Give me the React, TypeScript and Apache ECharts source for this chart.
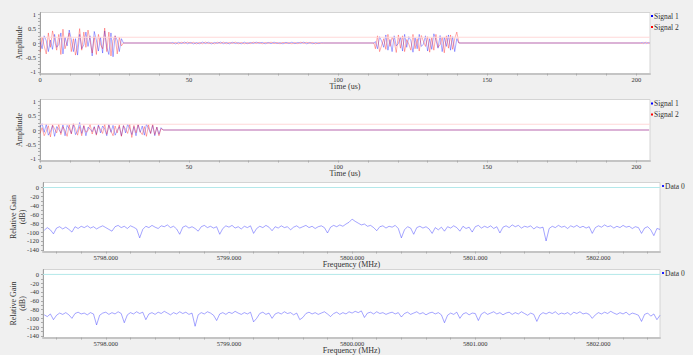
import React, { useEffect, useRef } from "react";
import * as echarts from "echarts";

// ---------- axis ticks / ranges ----------
const TIME_RANGE = [0, 204.6];
const TIME_LABELS = [0, 50, 100, 150, 200];
const TIME_TICKS = [0, 10, 20, 30, 40, 50, 60, 70, 80, 90, 100, 110, 120, 130, 140, 150, 160, 170, 180, 190, 200];
const AMP_RANGE = [-1.06, 1.06];
const AMP_LABELS = [-1, -0.5, 0, 0.5, 1];
const AMP_TICKS = [-1, -0.875, -0.75, -0.625, -0.5, -0.375, -0.25, -0.125, 0, 0.125, 0.25, 0.375, 0.5, 0.625, 0.75, 0.875, 1];
const FREQ_RANGE = [5797.49, 5802.5];
const FREQ_LABELS = [5798, 5799, 5800, 5801, 5802];
const FREQ_TICKS = [5797.6, 5797.8, 5798, 5798.2, 5798.4, 5798.6, 5798.8, 5799, 5799.2, 5799.4, 5799.6, 5799.8, 5800, 5800.2, 5800.4, 5800.6, 5800.8, 5801, 5801.2, 5801.4, 5801.6, 5801.8, 5802, 5802.2, 5802.4];
const GAIN_RANGE = [-143.6, 11.2];
const GAIN_LABELS = [0, -20, -40, -60, -80, -100, -120, -140];
const GAIN_TICKS = [0, -10, -20, -30, -40, -50, -60, -70, -80, -90, -100, -110, -120, -130, -140];

const AMP_THRESHOLD = 0.2;
const GAIN_REFERENCE = 0;

// ---------- panel 1 (time, us) ----------
const P1_BURST_A_START = 0;
const P1_BURST_A_STEP = 0.7;
const P1_SIG1_BURST_A = [0.05, -0.2, 0.25, 0.08, -0.3, 0.1, -0.22, 0.3, -0.15, -0.05, 0.35, -0.38, 0.2, -0.1, 0.45, 0.12, -0.3, 0.15, -0.42, 0.3, -0.2, -0.06, 0.38, -0.12, 0.25, -0.45, 0.4, 0.1, -0.28, 0.2, -0.35, 0.42, -0.15, -0.4, 0.35, -0.48, 0.25, 0.1, -0.3, 0.15, 0];
const P1_SIG2_BURST_A = [-0.32, 0.2, -0.1, -0.38, 0.35, -0.15, 0.42, 0.1, -0.25, 0.3, -0.4, 0.48, -0.2, 0.05, 0.35, -0.3, 0.15, -0.42, -0.1, 0.5, -0.25, 0.38, -0.15, 0.45, 0.08, -0.35, 0.22, -0.4, 0.3, -0.05, -0.2, 0.52, -0.3, 0.38, -0.45, 0.1, 0.25, -0.38, 0.2, -0.1, 0];
const P1_QUIET_A = [28.5, 44];
const P1_WIGGLE_START = 44.5;
const P1_WIGGLE_STEP = 1;
const P1_SIG1_WIGGLE = [0.02, -0.03, 0.025, -0.02, 0.03, -0.025, 0.02, -0.03, 0.015, -0.025, 0.03, -0.02, 0.025, -0.03, 0.02, -0.015, 0.03, -0.025, 0.02, -0.03, 0.025, -0.02, 0.015, -0.03, 0.03, -0.025, 0.02, -0.02, 0.03, -0.015, 0.025, -0.03, 0.02, -0.025, 0.03, -0.02, 0.015, -0.03, 0.025, -0.02, 0.03, -0.025, 0.02, -0.015, 0.03, -0.03, 0.02, -0.025, 0.015, -0.02, 0.01];
const P1_SIG2_WIGGLE = [-0.025, 0.02, -0.03, 0.025, -0.02, 0.03, -0.015, 0.025, -0.03, 0.02, -0.025, 0.03, -0.02, 0.015, -0.03, 0.025, -0.02, 0.03, -0.025, 0.02, -0.015, 0.03, -0.025, 0.02, -0.03, 0.015, -0.025, 0.03, -0.02, 0.025, -0.03, 0.02, -0.015, 0.03, -0.025, 0.02, -0.03, 0.025, -0.02, 0.015, -0.03, 0.02, -0.025, 0.03, -0.02, 0.025, -0.015, 0.02, -0.03, 0.015, -0.01];
const P1_QUIET_B = [95, 112];
const P1_BURST_B_START = 112.5;
const P1_BURST_B_STEP = 0.7;
const P1_SIG1_BURST_B = [0.05, -0.2, 0.22, 0.06, -0.15, 0.28, -0.25, 0.12, -0.3, 0.25, -0.1, -0.02, 0.2, -0.28, 0.3, -0.15, 0.22, 0.08, -0.32, 0.18, -0.2, 0.3, -0.12, -0.04, 0.25, -0.28, 0.15, -0.22, 0.32, 0.1, -0.18, 0.26, -0.3, 0.2, -0.12, 0.28, -0.25, 0.22, -0.3, 0.15, 0];
const P1_SIG2_BURST_B = [-0.2, 0.25, -0.3, -0.08, 0.15, -0.22, 0.3, -0.12, 0.2, 0.05, -0.33, 0.28, -0.18, 0.25, -0.3, 0.12, -0.04, -0.25, 0.3, -0.2, 0.15, -0.28, 0.26, 0.06, -0.12, 0.22, -0.32, 0.18, -0.25, 0.3, -0.15, -0.06, 0.2, -0.34, 0.25, -0.18, 0.28, -0.22, 0.15, 0.38, 0];
const P1_QUIET_C = [141.5, 201.5];
const P1_TAIL_START = 202;
const P1_TAIL_STEP = 0.5;
const P1_SIG1_TAIL = [0.02, -0.02, 0.025, -0.02, 0.015, 0];
const P1_SIG2_TAIL = [-0.02, 0.02, -0.02, 0.025, -0.015, 0];
const P1_END = 204.3;

// ---------- panel 2 (time, us) ----------
const P2_BURST_START = 0;
const P2_BURST_STEP = 0.7;
const P2_SIG1_BURST = [0.1, 0.22, -0.08, 0.2, -0.18, -0.05, 0.15, -0.22, 0.12, 0.02, -0.1, 0.18, -0.2, 0.16, 0.05, -0.12, 0.2, -0.16, -0.04, 0.26, -0.12, 0.14, -0.2, 0.1, 0.03, -0.06, 0.12, -0.15, 0.18, -0.1, 0.14, 0.04, -0.2, 0.2, -0.08, 0.16, -0.18, -0.02, 0.12, -0.2, 0.15, -0.1, 0.2, 0.05, -0.16, 0.12, -0.2, 0.18, -0.08, 0.14, -0.18, 0.2, 0.06, -0.12, 0.16, -0.2, 0.1, -0.15, 0.08, 0];
const P2_SIG2_BURST = [-0.12, 0.08, -0.2, -0.05, 0.15, -0.24, 0.18, 0.04, -0.1, 0.2, -0.16, 0.12, -0.03, -0.22, 0.18, -0.14, 0.22, 0.05, -0.18, 0.12, -0.2, 0.16, -0.08, -0.02, 0.2, -0.14, 0.1, -0.18, 0.14, 0.02, -0.12, 0.2, -0.15, 0.16, -0.04, -0.2, 0.14, -0.1, 0.18, -0.22, 0.15, 0.03, -0.12, 0.2, -0.26, 0.16, -0.1, 0.2, -0.06, -0.16, 0.12, -0.22, 0.18, -0.12, 0.2, -0.16, 0.1, -0.2, 0.05, 0];
const P2_END = 204.3;

// ---------- panels 3 & 4 (frequency, MHz) ----------
const FREQ_START = 5797.5;
const FREQ_STEP = 0.025;
const P3_GAIN = [
  -96, -90, -95, -104, -91, -88, -93, -89, -94, -100,
  -88, -92, -87, -90, -86, -91, -88, -93, -89, -86,
  -90, -94, -98, -88, -85, -90, -87, -92, -86, -89,
  -93, -113, -94, -87, -90, -85, -89, -92, -86, -88,
  -84, -90, -87, -93, -105, -89, -86, -91, -88, -92,
  -98, -88, -85, -90, -87, -91, -88, -105, -92, -86,
  -89, -85, -91, -88, -93, -87, -90, -86, -103, -92,
  -87, -90, -85, -89, -97, -88, -91, -86, -90, -88,
  -95, -89, -86, -91, -88, -85, -90, -87, -92, -88,
  -86, -90, -102, -89, -85, -88, -84, -87, -82, -78,
  -71, -76, -80, -84, -82, -87, -85, -90, -97, -88,
  -86, -91, -87, -89, -85, -92, -113, -95, -88, -91,
  -105, -90, -87, -91, -88, -93, -103, -90, -95, -89,
  -98, -88, -91, -86, -90, -98, -87, -92, -89, -100,
  -88, -85, -91, -87, -90, -86, -92, -88, -102, -89,
  -86, -90, -84, -88, -85, -91, -87, -89, -86, -93,
  -88, -91, -89, -120, -92, -87, -90, -85, -89, -87,
  -92, -86, -89, -85, -90, -87, -91, -88, -103, -90,
  -86, -89, -84, -88, -86, -91, -87, -90, -85, -89,
  -87, -92, -88, -90, -103, -91, -88, -95, -108, -92,
  -94,
];
const P4_GAIN = [
  -92, -96, -90, -103, -93, -88, -91, -87, -92, -100,
  -89, -86, -90, -88, -92, -87, -90, -115, -93, -88,
  -86, -91, -87, -90, -85, -89, -110, -92, -87, -90,
  -85, -89, -86, -103, -90, -87, -91, -86, -89, -84,
  -88, -92, -87, -90, -85, -89, -86, -91, -88, -118,
  -92, -87, -90, -85, -88, -93, -105, -90, -87, -91,
  -86, -89, -84, -88, -91, -87, -90, -86, -108, -100,
  -89, -86, -91, -88, -100, -90, -87, -90, -85, -89,
  -87, -92, -88, -103, -98, -89, -86, -90, -87, -91,
  -88, -85, -90, -96, -89, -86, -91, -87, -90, -85,
  -88, -84, -87, -83, -98, -88, -86, -90, -85, -89,
  -87, -91, -88, -86, -90, -87, -97, -89, -86, -91,
  -88, -85, -90, -87, -92, -88, -86, -90, -87, -92,
  -110, -93, -88, -91, -86, -100, -90, -87, -92, -88,
  -89, -105, -90, -86, -91, -88, -85, -90, -87, -92,
  -88, -86, -91, -87, -90, -85, -89, -93, -88, -91,
  -107, -92, -87, -90, -86, -89, -85, -91, -88, -90,
  -87, -92, -86, -89, -85, -90, -88, -91, -100, -92,
  -87, -90, -86, -89, -84, -88, -91, -87, -90, -86,
  -92, -88, -90, -93, -107, -91, -88, -95, -90, -103,
  -93,
];

// ---------- helpers ----------
const seg = (start: number, step: number, vals: number[]) => vals.map((v, i) => [start + i * step, v]);

function buildPanel1(burstA: number[], wiggle: number[], burstB: number[], tail: number[]): number[][] {
  return [
    ...seg(P1_BURST_A_START, P1_BURST_A_STEP, burstA),
    [P1_QUIET_A[0], 0], [P1_QUIET_A[1], 0],
    ...seg(P1_WIGGLE_START, P1_WIGGLE_STEP, wiggle),
    [P1_QUIET_B[0], 0], [P1_QUIET_B[1], 0],
    ...seg(P1_BURST_B_START, P1_BURST_B_STEP, burstB),
    [P1_QUIET_C[0], 0], [P1_QUIET_C[1], 0],
    ...seg(P1_TAIL_START, P1_TAIL_STEP, tail),
    [P1_END, 0],
  ];
}

const FONT = "'Liberation Serif', 'DejaVu Serif', serif";
const TXT = "#333";
const BLUE_LINE = "rgba(0,0,255,0.34)";
const RED_LINE = "rgba(255,0,0,0.32)";
const SPEC_LINE = "rgba(40,40,255,0.42)";
const PINK_REF = "#ffd8d8";
const CYAN_REF = "#b4e8ea";

function xAxisCommon(gridIndex: number, range: number[], name: string, ticks: number[], labels: number[], fmt?: (v: number) => string) {
  return {
    type: "value", gridIndex, min: range[0], max: range[1],
    name, nameLocation: "middle", nameGap: 8.5, nameMoveOverlap: false,
    nameTextStyle: { fontFamily: FONT, fontSize: 8, color: TXT },
    axisLine: { show: true, onZero: false, lineStyle: { color: "#c4c4c4", width: 2 } },
    axisTick: { show: true, length: 2, customValues: ticks, lineStyle: { color: "#aaa" } },
    axisLabel: { fontFamily: FONT, fontSize: 6.5, color: TXT, margin: 2, customValues: labels, formatter: fmt },
    splitLine: { show: false },
  };
}
function yAxisCommon(gridIndex: number, range: number[], name: string, gap: number, ticks: number[], labels: number[]) {
  return {
    type: "value", gridIndex, min: range[0], max: range[1],
    name, nameLocation: "middle", nameGap: gap, nameMoveOverlap: false,
    nameTextStyle: { fontFamily: FONT, fontSize: 8, color: TXT, lineHeight: 8.5 },
    axisLine: { show: true, onZero: false, lineStyle: { color: "#a0a0a0", width: 1 } },
    axisTick: { show: true, length: 2, customValues: ticks, lineStyle: { color: "#aaa" } },
    axisLabel: { fontFamily: FONT, fontSize: 6.5, color: TXT, margin: 4, customValues: labels },
    splitLine: { show: false },
  };
}

function legend(top: number, left: number, names: string[]) {
  return {
    top, left, orient: "vertical", padding: 0, itemGap: 3, itemWidth: 2, itemHeight: 2,
    icon: "rect", data: names, selectedMode: false,
    textStyle: { fontFamily: FONT, fontSize: 7.5, color: TXT, padding: [0, 0, 0, -4] },
  };
}

const gridBase = { show: true, backgroundColor: "#ffffff", borderColor: "#d4d4d4", borderWidth: 1 };

export default function App() {
  const ref = useRef<HTMLDivElement>(null);
  useEffect(() => {
    if (!ref.current) return;
    const chart = echarts.init(ref.current, undefined, { renderer: "svg" });
    const sig = (name: string, idx: number, data: number[][], solid: string, line: string) => ({
      name, type: "line", xAxisIndex: idx, yAxisIndex: idx, data,
      showSymbol: false, symbol: "none", smooth: false, z: 3,
      itemStyle: { color: solid }, lineStyle: { color: line, width: 1 },
      emphasis: { disabled: true },
    });
    const refSeries = (idx: number, range: number[], value: number, color: string) => ({
      name: "reference-" + idx, type: "line", xAxisIndex: idx, yAxisIndex: idx,
      data: [[range[0], value], [range[1], value]],
      showSymbol: false, symbol: "none", silent: true, z: 10,
      itemStyle: { color }, lineStyle: { color, width: 1, opacity: 1 },
      emphasis: { disabled: true },
    });
    const p1s1 = buildPanel1(P1_SIG1_BURST_A, P1_SIG1_WIGGLE, P1_SIG1_BURST_B, P1_SIG1_TAIL);
    const p1s2 = buildPanel1(P1_SIG2_BURST_A, P1_SIG2_WIGGLE, P1_SIG2_BURST_B, P1_SIG2_TAIL);
    const p2s1 = [...seg(P2_BURST_START, P2_BURST_STEP, P2_SIG1_BURST), [P2_END, 0]];
    const p2s2 = [...seg(P2_BURST_START, P2_BURST_STEP, P2_SIG2_BURST), [P2_END, 0]];
    const freqFmt = (v: number) => v.toFixed(3);
    chart.setOption({
      animation: false,
      backgroundColor: "#f0f0f0",
      textStyle: { fontFamily: FONT },
      grid: [
        { ...gridBase, left: 40, top: 12.5, width: 610, height: 61 },
        { ...gridBase, left: 40, top: 99.5, width: 610, height: 61 },
        { ...gridBase, left: 43, top: 182.5, width: 617, height: 69 },
        { ...gridBase, left: 43, top: 269.5, width: 617, height: 69 },
      ],
      xAxis: [
        xAxisCommon(0, TIME_RANGE, "Time (us)", TIME_TICKS, TIME_LABELS),
        xAxisCommon(1, TIME_RANGE, "Time (us)", TIME_TICKS, TIME_LABELS),
        xAxisCommon(2, FREQ_RANGE, "Frequency (MHz)", FREQ_TICKS, FREQ_LABELS, freqFmt),
        xAxisCommon(3, FREQ_RANGE, "Frequency (MHz)", FREQ_TICKS, FREQ_LABELS, freqFmt),
      ],
      yAxis: [
        yAxisCommon(0, AMP_RANGE, "Amplitude", 16.5, AMP_TICKS, AMP_LABELS),
        yAxisCommon(1, AMP_RANGE, "Amplitude", 16.5, AMP_TICKS, AMP_LABELS),
        yAxisCommon(2, GAIN_RANGE, "Relative Gain\n(dB)", 16.5, GAIN_TICKS, GAIN_LABELS),
        yAxisCommon(3, GAIN_RANGE, "Relative Gain\n(dB)", 16.5, GAIN_TICKS, GAIN_LABELS),
      ],
      legend: [
        legend(12, 651, ["Signal 1", "Signal 2"]),
        legend(99.5, 651, ["Signal 1", "Signal 2"]),
        legend(182, 662, ["Data 0"]),
        legend(269, 662, ["Data 0"]),
      ],
      series: [
        sig("Signal 1", 0, p1s1, "#0000ff", BLUE_LINE),
        sig("Signal 2", 0, p1s2, "#ff0000", RED_LINE),
        sig("Signal 1", 1, p2s1, "#0000ff", BLUE_LINE),
        sig("Signal 2", 1, p2s2, "#ff0000", RED_LINE),
        sig("Data 0", 2, seg(FREQ_START, FREQ_STEP, P3_GAIN), "#2020ff", SPEC_LINE),
        sig("Data 0", 3, seg(FREQ_START, FREQ_STEP, P4_GAIN), "#2020ff", SPEC_LINE),
        refSeries(0, TIME_RANGE, AMP_THRESHOLD, PINK_REF),
        refSeries(1, TIME_RANGE, AMP_THRESHOLD, PINK_REF),
        refSeries(2, FREQ_RANGE, GAIN_REFERENCE, CYAN_REF),
        refSeries(3, FREQ_RANGE, GAIN_REFERENCE, CYAN_REF),
      ],
    });
    return () => chart.dispose();
  }, []);
  return <div ref={ref} style={{ position: "absolute", left: 0, top: 0, width: 693, height: 355 }} />;
}
